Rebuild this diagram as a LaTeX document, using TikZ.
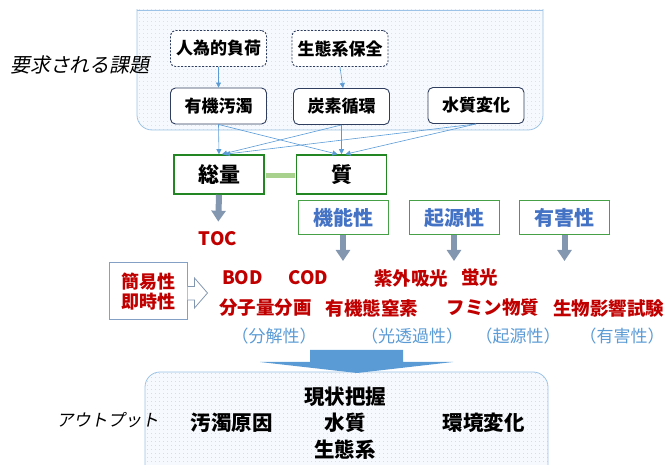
\documentclass[tikz,border=0pt]{standalone}
\usepackage{fontspec}
\setmainfont{Noto Sans CJK JP}
\newfontfamily\jpit[FakeSlant=0.2]{Noto Sans CJK JP}
\usetikzlibrary{arrows.meta,patterns.meta,calc}
\definecolor{navy}{RGB}{47,62,95}
\definecolor{lblue}{RGB}{91,155,213}
\definecolor{boxblue}{RGB}{157,195,230}
\definecolor{boxfill}{RGB}{246,249,253}
\definecolor{dotc}{RGB}{175,185,200}
\definecolor{dgreen}{RGB}{34,135,34}
\definecolor{mgreen}{RGB}{70,160,70}
\definecolor{lgreen}{RGB}{169,209,142}
\definecolor{tblue}{RGB}{68,114,196}
\definecolor{dred}{RGB}{192,0,0}
\definecolor{gblue}{RGB}{132,151,176}
\definecolor{kbord}{RGB}{132,160,196}
\tikzset{
  topbox/.style={draw=navy, line width=0.9pt, rounded corners=5pt, fill=white,
    minimum width=96pt, minimum height=36pt, inner sep=0pt,
    font=\bfseries\fontsize{17}{20}\selectfont},
  dashbox/.style={topbox, dash pattern=on 2pt off 1.5pt},
  thinarr/.style={draw=lblue, line width=0.6pt, -{Triangle[length=5pt,width=5pt]}},
  greenbox/.style={draw=dgreen, line width=1.6pt, fill=white,
    minimum width=90pt, minimum height=39pt, inner sep=0pt,
    font=\bfseries\fontsize{21}{24}\selectfont},
  propbox/.style={draw=mgreen, line width=1pt, fill=white,
    minimum width=90pt, minimum height=34pt, inner sep=0pt, text=tblue,
    font=\bfseries\fontsize{20}{24}\selectfont},
  fatarr/.style={draw=gblue, line width=6pt, -{Triangle[width=14pt,length=11pt]}},
  redtxt/.style={text=dred, inner sep=0pt, font=\bfseries\fontsize{18.5}{22}\selectfont},
  bluetxt/.style={text=lblue, inner sep=0pt, font=\fontsize{17}{20}\selectfont},
  outtxt/.style={inner sep=0pt, font=\bfseries\fontsize{20.5}{24}\selectfont},
  ittxt/.style={inner sep=0pt},
  dotted box/.style={draw=boxblue, line width=0.8pt, fill=boxfill},
}
\begin{document}
\begin{tikzpicture}[x=1pt,y=-1pt]
\useasboundingbox (0,0) rectangle (665,465);
\clip (0,0) rectangle (665,465);

% top container
\begin{scope}
  \clip (0,10) rectangle (665,200);
  \filldraw[dotted box, rounded corners=15pt] (137,-20) rectangle (543,130);
  \fill[pattern={Dots[distance=4pt,radius=0.35pt]}, pattern color=dotc, rounded corners=15pt] (137,-20) rectangle (543,130);
\end{scope}
\draw[draw=boxblue, line width=0.8pt] (137,10) -- (543,10);

\node[ittxt, font=\jpit\fontsize{20}{24}\selectfont] (req) at (80,65) {要求される課題};

\node[dashbox] (jin) at (218.5,48.5) {人為的負荷};
\node[dashbox] (sei) at (340,48.5) {生態系保全};
\node[topbox] (yuki) at (218.5,106) {有機汚濁};
\node[topbox] (tan) at (341.5,106.5) {炭素循環};
\node[topbox] (sui) at (476,105.5) {水質変化};

\draw[thinarr] (jin.south) -- (yuki.north);
\draw[thinarr] (sei.south) -- ([xshift=1.5pt]tan.north);

% green boxes
\node[greenbox] (sou) at (219,174.5) {総量};
\node[greenbox] (shi) at (341.5,174.5) {質};
\draw[lgreen, line width=5pt, shorten <=0.8pt, shorten >=0.8pt] ([yshift=-1.5pt]sou.east) -- ([yshift=-1.5pt]shi.west);

\draw[thinarr] (yuki.south) -- (sou.north);
\draw[thinarr] (tan.south) -- ([xshift=3pt]sou.north);
\draw[thinarr] (sui.south) -- ([xshift=6pt]sou.north);
\draw[thinarr] (yuki.south) -- ([xshift=-4pt]shi.north);
\draw[thinarr] (tan.south) -- ([xshift=0pt]shi.north);
\draw[thinarr] (sui.south) -- ([xshift=4pt]shi.north);

% TOC
\node[redtxt] (toc) at (218,239) {TOC};
\draw[fatarr, shorten >=10pt] (sou.south) -- (toc.north);

% property boxes
\node[propbox] (kin) at (343,218) {機能性};
\node[propbox] (kig) at (454,218) {起源性};
\node[propbox] (yug) at (564.5,218) {有害性};
\coordinate (ekin) at (343,261);
\coordinate (ekig) at (454,261);
\coordinate (eyug) at (564.5,261);
\draw[fatarr] (kin.south) -- (ekin);
\draw[fatarr] (kig.south) -- (ekig);
\draw[fatarr] (yug.south) -- (eyug);

% simplicity box
\node[draw=kbord, line width=1pt, fill=white, minimum width=78pt, minimum height=57pt,
  inner sep=0pt, align=center, text=dred, font=\bfseries\fontsize{18}{20}\selectfont]
  (kan) at (148,291.5) {簡易性\\即時性};
\draw[gblue, line width=0.8pt, fill=white, line join=miter]
  ($(kan.east)+(0,-5)$) -- ++(7,0) -- ++(0,-8.5) -- ++(13,15) -- ++(-13,15) -- ++(0,-8) -- ++(-7,0);

% red texts
\node[redtxt] (bod) at (242.5,278) {BOD};
\node[redtxt] (cod) at (308.5,278) {COD};
\node[redtxt] (shig) at (411,278) {紫外吸光};
\node[redtxt] (kei) at (479.5,278) {蛍光};
\node[redtxt] (bun) at (265.5,308) {分子量分画};
\node[redtxt] (chi) at (372,308) {有機態窒素};
\node[redtxt] (fum) at (493,308) {フミン物質};
\node[redtxt] (sei2) at (608.5,308) {生物影響試験};

\node[bluetxt] (p1) at (274,336) {（分解性）};
\node[bluetxt] (p2) at (412,336) {（光透過性）};
\node[bluetxt] (p3) at (518,336) {（起源性）};
\node[bluetxt] (p4) at (622,336) {（有害性）};

% bottom container
\filldraw[dotted box, rounded corners=15pt] (145,372) rectangle (548,520);
\fill[pattern={Dots[distance=4pt,radius=0.35pt]}, pattern color=dotc, rounded corners=15pt] (145,372) rectangle (548,520);

% big arrow
\fill[lblue] (310,350) -- (403,350) -- (403,362) -- (453,362) -- (357,373) -- (260,362) -- (310,362) -- cycle;

\node[ittxt, font=\jpit\fontsize{17}{20}\selectfont] (out) at (107.5,420) {アウトプット};
\node[outtxt] (gen) at (345,397) {現状把握};
\node[outtxt] (mizu) at (345,423) {水質};
\node[outtxt] (seit) at (345,450) {生態系};
\node[outtxt] (oda) at (231.5,423) {汚濁原因};
\node[outtxt] (kan2) at (483.5,423) {環境変化};
\end{tikzpicture}
\end{document}
